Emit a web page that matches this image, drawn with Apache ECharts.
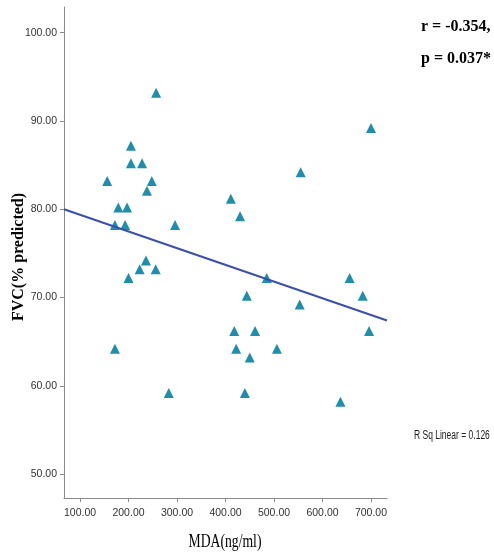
<!DOCTYPE html>
<html>
<head>
<meta charset="utf-8">
<script src="https://cdn.jsdelivr.net/npm/echarts@6/dist/echarts.min.js"></script>
<style>html,body{margin:0;padding:0;background:#fff}#c{width:494px;height:553px}</style>
</head>
<body>
<div id="c"></div>
<script>
// Data
var mda = [257,205,205,228,156,248,238,179,197,172,193,296,236,223,256,200,172,283,555,411,430,485,444,553,418,461,422,506,450,440,700,656,683,696,637];
var fvc = [93.2,87.2,85.2,85.2,83.2,83.2,82.1,80.2,80.2,78.2,78.2,78.2,74.2,73.2,73.2,72.2,64.2,59.2,84.2,81.2,79.2,72.2,70.2,69.2,66.2,66.2,64.2,64.2,63.2,59.2,89.2,72.2,70.2,66.2,58.2];
var fitX = [67, 733];
var fitY = [80.0, 67.4];
var xTicks = [100,200,300,400,500,600,700];
var yTicks = [50,60,70,80,90,100];
var statR = 'r = -0.354,';
var statP = 'p = 0.037*';
var rsqText = 'R Sq Linear = 0.126';
var xName = 'MDA(ng/ml)';
var yName = 'FVC(% predicted)';

var pts = mda.map(function(x,i){return [x, fvc[i]];});
var fitPts = fitX.map(function(x,i){return [x, fitY[i]];});

var chart = echarts.init(document.getElementById('c'), null, {renderer:'canvas'});
var axisCol = '#8a8a8a';
var labFont = "'Liberation Sans',Arial,sans-serif";
chart.setOption({
  animation:false,
  backgroundColor:'#fff',
  grid:{left:64,right:107,top:7,bottom:55},
  xAxis:{
    type:'value', min:67, max:733,
    splitLine:{show:false},
    axisLine:{show:true,lineStyle:{color:axisCol,width:1}},
    axisTick:{show:true,length:4,lineStyle:{color:axisCol},customValues:xTicks},
    axisLabel:{customValues:xTicks,margin:10,color:'#333',fontSize:10.5,fontFamily:labFont,
      formatter:function(v){return v.toFixed(2);}}
  },
  yAxis:{
    type:'value', min:47.3, max:102.9,
    splitLine:{show:false},
    axisLine:{show:true,lineStyle:{color:axisCol,width:1}},
    axisTick:{show:true,length:4,lineStyle:{color:axisCol},customValues:yTicks},
    axisLabel:{customValues:yTicks,margin:7,color:'#333',fontSize:10.5,fontFamily:labFont,
      formatter:function(v){return v.toFixed(2);}}
  },
  series:[
    {type:'scatter',data:pts,symbol:'triangle',symbolSize:[10,10],
      itemStyle:{color:'#1f8eab',opacity:1},z:2},
    {type:'line',data:fitPts,symbol:'none',lineStyle:{color:'#3b4fab',width:2},z:3}
  ],
  graphic:[
    {type:'text',x:421,y:26.5,style:{text:statR,font:"bold 16px 'Liberation Serif',serif",fill:'#000',textAlign:'left',textVerticalAlign:'middle'}},
    {type:'text',x:421,y:59,style:{text:statP,font:"bold 16px 'Liberation Serif',serif",fill:'#000',textAlign:'left',textVerticalAlign:'middle'}},
    {type:'text',x:414,y:436,scaleX:0.68,style:{text:rsqText,font:"12.5px 'Liberation Sans',sans-serif",fill:'#222',textAlign:'left',textVerticalAlign:'middle'}},
    {type:'text',x:225,y:542,scaleX:0.72,style:{text:xName,font:"19px 'Liberation Serif',serif",fill:'#000',textAlign:'center',textVerticalAlign:'middle'}},
    {type:'text',x:19,y:257,rotation:Math.PI/2,style:{text:yName,font:"bold 16px 'Liberation Serif',serif",fill:'#000',textAlign:'center',textVerticalAlign:'middle'}}
  ]
});
</script>
</body>
</html>
